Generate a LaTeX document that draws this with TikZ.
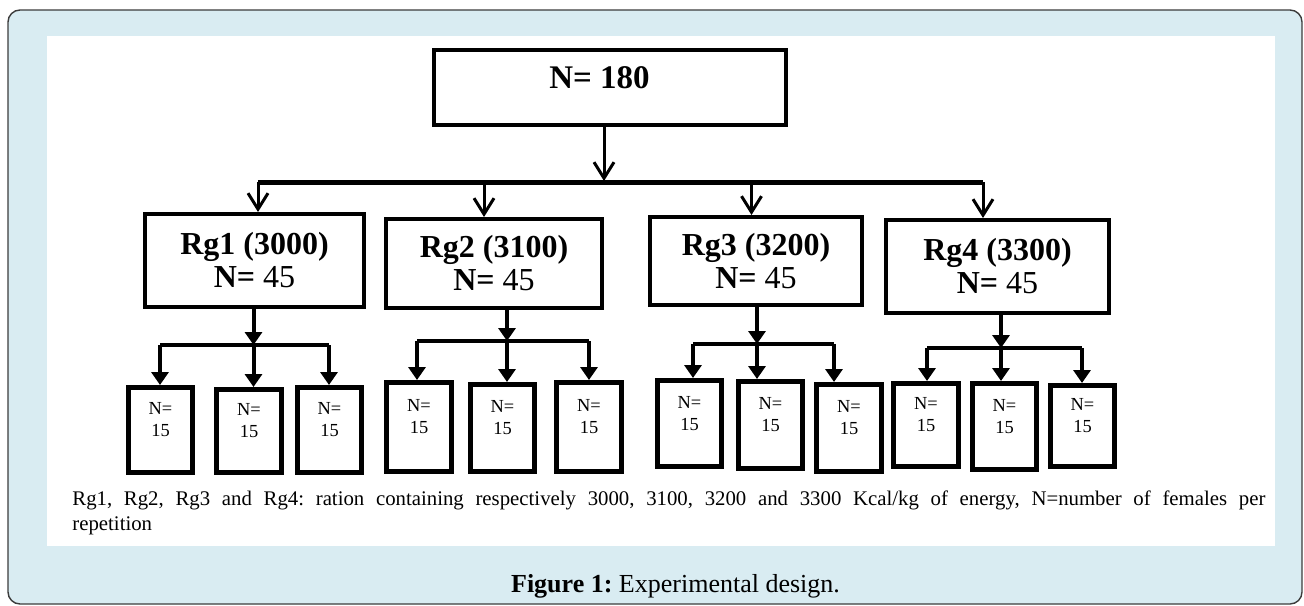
\documentclass[tikz,border=0pt]{standalone}
\usepackage{fontspec}
\setmainfont{Liberation Serif}
\usetikzlibrary{arrows.meta}
\definecolor{panelblue}{RGB}{217,236,242}
\definecolor{panelrule}{RGB}{60,60,60}
\frenchspacing

\begin{document}
\begin{tikzpicture}[x=0.5pt, y=-0.5pt,
    topbox/.style={draw, line width=1.8pt, inner sep=0pt, minimum width=176.2pt, minimum height=37.7pt},
    toptext/.style={font=\bfseries\fontsize{16.5}{19}\selectfont, xshift=-5.25pt, yshift=4.75pt},
    rgbox/.style={draw, line width=2.2pt, inner sep=0pt, align=center, font=\fontsize{16}{16.5}\selectfont},
    reptext/.style={align=center, font=\fontsize{9.2}{11}\selectfont, yshift=5pt},
    repbox/.style={draw, line width=2.5pt, inner sep=0pt, minimum width=32.3pt,
      label={[reptext]center:{N=\\15}}},
    openarrow/.style={-{Straight Barb[width=10pt,length=8pt]}, line width=1.5pt},
    fillarrow/.style={-{Triangle[width=8.5pt,length=6.5pt]}, line width=2pt},
    bus/.style={line width=2.5pt},
    bar/.style={line width=1.7pt}]
  \useasboundingbox (0,0) rectangle (1304,605);
  \draw[panelrule, line width=0.7pt, fill=panelblue, rounded corners=6pt] (8,10) rectangle (1302,604);
  \fill[white] (47,36) rectangle (1275,546);

  % boxes
  \node[topbox, label={[toptext]center:N= 180}] (top) at (610,87.5) {};
  \node[rgbox, minimum width=109.3pt, minimum height=46.3pt] (rg1) at (254.5,260.5) {\textbf{Rg1 (3000)}\\\textbf{N=} 45};
  \node[rgbox, minimum width=107.8pt, minimum height=44.3pt] (rg2) at (494,263.5) {\textbf{Rg2 (3100)}\\\textbf{N=} 45};
  \node[rgbox, minimum width=105.8pt, minimum height=43.8pt] (rg3) at (756,261) {\textbf{Rg3 (3200)}\\\textbf{N=} 45};
  \node[rgbox, minimum width=111.3pt, minimum height=46.3pt] (rg4) at (997.5,266.5) {\textbf{Rg4 (3300)}\\\textbf{N=} 45};

  \node[repbox, minimum height=42.5pt] (s11) at (160.5,430) {};
  \node[repbox, minimum height=41.5pt] (s12) at (249,431) {};
  \node[repbox, minimum height=42.5pt] (s13) at (329.5,430) {};
  \node[repbox, minimum height=44.5pt] (s21) at (419,427) {};
  \node[repbox, minimum height=43.5pt] (s22) at (502.5,428) {};
  \node[repbox, minimum height=44.5pt] (s23) at (589,427) {};
  \node[repbox, minimum height=43pt] (s31) at (689.5,423.5) {};
  \node[repbox, minimum height=43.5pt] (s32) at (770.5,425) {};
  \node[repbox, minimum height=43.5pt] (s33) at (849,428) {};
  \node[repbox, minimum height=41.5pt] (s41) at (926,425) {};
  \node[repbox, minimum height=43pt] (s42) at (1004.5,426.5) {};
  \node[repbox, minimum height=40.5pt] (s43) at (1082.5,426) {};

  % first level
  \coordinate (j0) at (604,181);
  \coordinate (b1) at (258,182);
  \coordinate (b2) at (484,182);
  \coordinate (b3) at (751.5,182);
  \coordinate (b4) at (983,182);
  \draw[openarrow] (top.south -| j0) -- (j0);
  \draw[bus] (b1) -- (b4);
  \draw[openarrow] (b1) -- (b1 |- rg1.north);
  \draw[openarrow] (b2) -- (b2 |- rg2.north);
  \draw[openarrow] (b3) -- (b3 |- rg3.north);
  \draw[openarrow] (b4) -- (b4 |- rg4.north);

  % second level
  \coordinate (g1l) at (160,345);
  \coordinate (g1m) at (253.5,345);
  \coordinate (g1r) at (329,345);
  \coordinate (g2l) at (417,341);
  \coordinate (g2m) at (507,341);
  \coordinate (g2r) at (589,341);
  \coordinate (g3l) at (693,344);
  \coordinate (g3m) at (757,344);
  \coordinate (g3r) at (834,344);
  \coordinate (g4l) at (927,348);
  \coordinate (g4m) at (1001,348);
  \coordinate (g4r) at (1082,348);

  \draw[fillarrow] (g1m |- rg1.south) -- (g1m);
  \draw[fillarrow] (g2m |- rg2.south) -- (g2m);
  \draw[fillarrow] (g3m |- rg3.south) -- (g3m);
  \draw[fillarrow] (g4m |- rg4.south) -- (g4m);
  \draw[bar] (g1l) -- (g1r);
  \draw[bar] (g2l) -- (g2r);
  \draw[bar] (g3l) -- (g3r);
  \draw[bar] (g4l) -- (g4r);

  \draw[fillarrow] (g1l) -- (g1l |- s11.north);
  \draw[fillarrow] (g1m) -- (g1m |- s12.north);
  \draw[fillarrow] (g1r) -- (g1r |- s13.north);
  \draw[fillarrow] (g2l) -- (g2l |- s21.north);
  \draw[fillarrow] (g2m) -- (g2m |- s22.north);
  \draw[fillarrow] (g2r) -- (g2r |- s23.north);
  \draw[fillarrow] (g3l) -- (g3l |- s31.north);
  \draw[fillarrow] (g3m) -- (g3m |- s32.north);
  \draw[fillarrow] (g3r) -- (g3r |- s33.north);
  \draw[fillarrow] (g4l) -- (g4l |- s41.north);
  \draw[fillarrow] (g4m) -- (g4m |- s42.north);
  \draw[fillarrow] (g4r) -- (g4r |- s43.north);

  % captions
  \node[anchor=base west, inner sep=0pt, text width=596.5pt, align=justify,
    font=\fontsize{10.4}{12.5}\selectfont] (note) at (72,505)
    {Rg1, Rg2, Rg3 and Rg4: ration containing respectively 3000, 3100, 3200 and 3300 Kcal/kg of energy, N=number of females per\linebreak repetition};
  \node[anchor=base, inner sep=0pt, font=\fontsize{13}{15}\selectfont] (caption) at (675.5,592)
    {\textbf{Figure 1:} Experimental design.};
\end{tikzpicture}
\end{document}
